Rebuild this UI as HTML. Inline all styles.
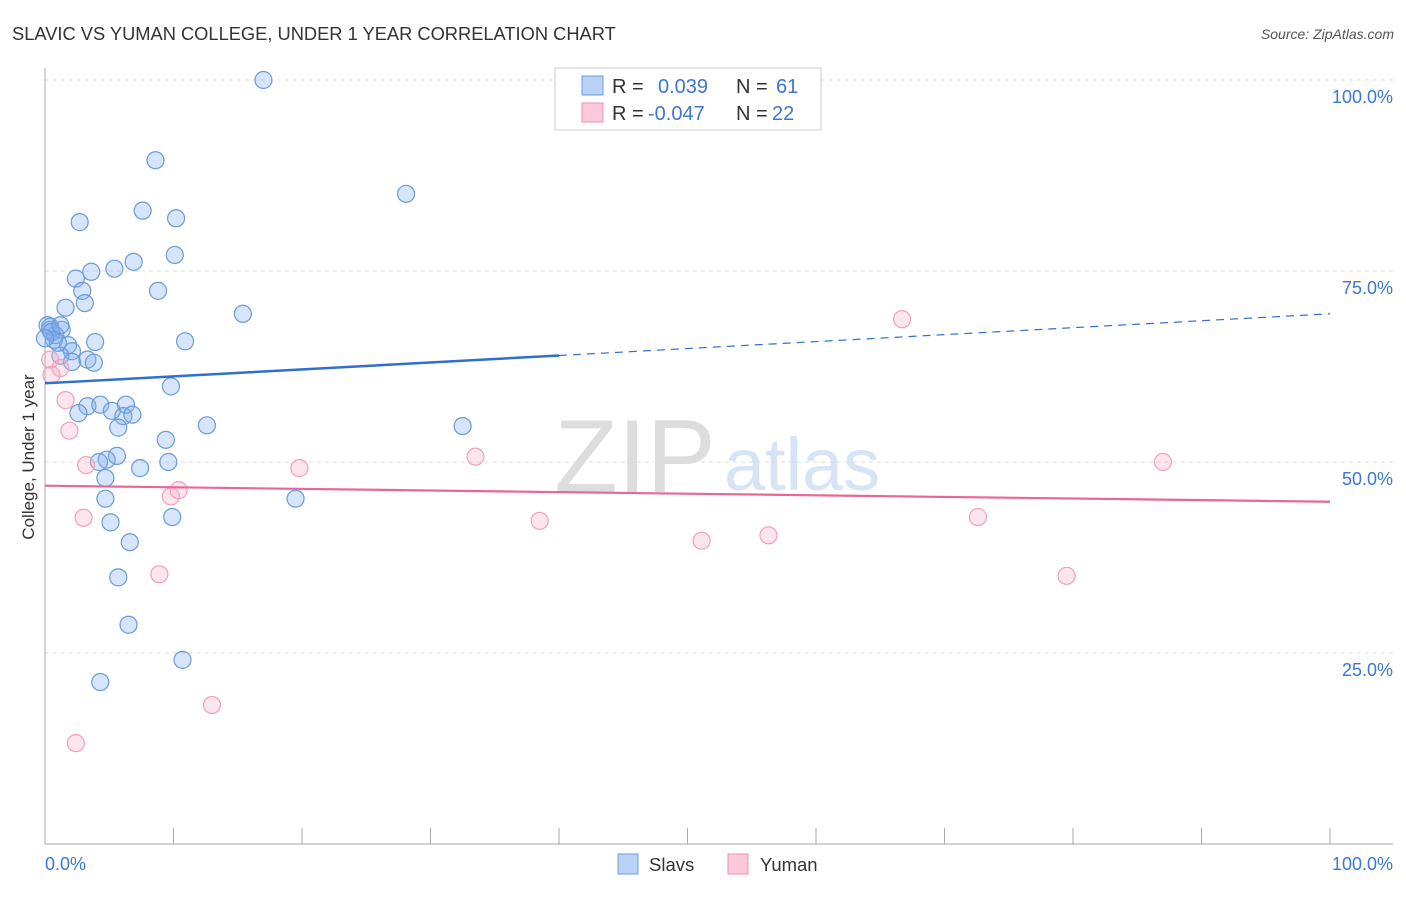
<!DOCTYPE html>
<html><head><meta charset="utf-8"><style>
body{margin:0;background:#fff;font-family:"Liberation Sans",sans-serif}
svg text{font-family:"Liberation Sans",sans-serif}
</style></head><body>
<svg id="c" width="1406" height="892">
<text x="12" y="40" font-size="18.3" fill="#333">SLAVIC VS YUMAN COLLEGE, UNDER 1 YEAR CORRELATION CHART</text>
<text x="1394" y="39" font-size="14" fill="#555" text-anchor="end" font-style="italic">Source: ZipAtlas.com</text>
<text x="635" y="492" font-size="104" fill="#ddd" font-family="Liberation Serif" text-anchor="middle">ZIP</text>
<text x="802" y="490" font-size="74" fill="#d6e4f5" text-anchor="middle">atlas</text>
<text transform="translate(34,457) rotate(-90)" font-size="17" fill="#333" text-anchor="middle">College, Under 1 year</text>
<g id="grid"></g><g id="pts"></g><g id="lines"></g>
<g>
<rect x="555" y="68" width="266" height="62" fill="#fff" stroke="#ccc"/>
<rect x="582" y="76" width="21" height="19" fill="#b8d3f5" stroke="#6b9ee0"/>
<rect x="582" y="103" width="21" height="19" fill="#fcc9d8" stroke="#f08fb0"/>
<text x="612" y="93" font-size="20" fill="#333">R =</text><text x="658" y="93" font-size="20" fill="#3a78d4">0.039</text>
<text x="736" y="93" font-size="20" fill="#333">N =</text><text x="776" y="93" font-size="20" fill="#3a78d4">61</text>
<text x="612" y="120" font-size="20" fill="#333">R =</text><text x="648" y="120" font-size="20" fill="#3a78d4">-0.047</text>
<text x="736" y="120" font-size="20" fill="#333">N =</text><text x="772" y="120" font-size="20" fill="#3a78d4">22</text>
</g>
<g>
<rect x="618" y="854" width="20" height="20" fill="#b8d3f5" stroke="#6b9ee0"/><text x="649" y="871" font-size="18.5" fill="#333">Slavs</text>
<rect x="728" y="854" width="20" height="20" fill="#fcc9d8" stroke="#f08fb0"/><text x="760" y="871" font-size="18.5" fill="#333">Yuman</text>
</g>
<text x="45" y="870" font-size="18" fill="#3a78d4">0.0%</text>
<text x="1393" y="870" font-size="18" fill="#3a78d4" text-anchor="end">100.0%</text>
</svg>
<script>
const yTicks=[100,75,50,25];
const yTickLabels=["100.0%","75.0%","50.0%","25.0%"];
const slavX=[17.0,8.6,28.1,7.6,2.7,10.2,10.1,6.9,5.4,3.6,2.4,8.8,2.9,3.1,1.6,15.4,0.4,1.3,0.7,10.9,3.9,1.8,2.1,1.2,2.1,3.3,3.8,9.8,3.3,4.3,2.6,6.3,5.2,6.1,6.8,5.7,12.6,32.5,9.4,5.6,4.8,4.2,7.4,9.6,4.7,4.7,19.5,9.9,5.1,6.6,5.7,6.5,10.7,4.3,0.4,0.8,0.2,1.0,0.5,0.0,1.2];
const slavY=[100.0,89.5,85.1,82.9,81.4,81.9,77.1,76.2,75.3,74.9,74.0,72.4,72.4,70.8,70.2,69.4,67.7,67.3,66.0,65.8,65.7,65.3,64.5,63.9,63.1,63.4,63.0,59.9,57.3,57.5,56.4,57.5,56.7,56.0,56.2,54.5,54.8,54.7,52.9,50.8,50.3,50.0,49.2,50.0,47.9,45.2,45.2,42.8,42.1,39.5,34.9,28.7,24.1,21.2,67.3,66.6,67.9,65.6,67.0,66.2,67.9];
const yumanX=[0.5,1.2,1.6,1.9,3.2,3.0,8.9,9.8,10.4,19.8,33.5,38.5,51.1,56.3,66.7,87.0,72.6,79.5,13.0,2.4,0.4];
const yumanY=[61.4,62.3,58.1,54.1,49.6,42.7,35.3,45.5,46.3,49.2,50.7,42.3,39.7,40.4,68.7,50.0,42.8,35.1,18.2,13.2,63.4];
const slavTrend=[60.3,69.4];
const yumanTrend=[46.9,44.8];
const NS="http://www.w3.org/2000/svg";
const X=v=>45+v*12.85, Y=v=>844-v*7.64;
function mk(t,a,p){const e=document.createElementNS(NS,t);for(const k in a)e.setAttribute(k,a[k]);p.appendChild(e);return e;}
const g=document.getElementById('grid');
yTicks.forEach((t,i)=>{
 const l=mk('line',{x1:45,x2:1393,y1:Y(t),y2:Y(t),stroke:'#ddd','stroke-dasharray':'4,4'},g);
 
 
 const tx=mk('text',{x:1393,y:Y(t)+23,'font-size':18,fill:'#3a78d4','text-anchor':'end'},g);
 tx.textContent=yTickLabels[i];
 
 
});
mk('line',{x1:45,x2:45,y1:68,y2:844,stroke:'#aaa'},g);
mk('line',{x1:45,x2:1393,y1:844,y2:844,stroke:'#aaa'},g);
for(let i=0;i<=10;i++){const t=mk('line',{x1:X(i*10),x2:X(i*10),y1:828,y2:844,stroke:'#aaa'},g);
 
 }
const p=document.getElementById('pts');
slavX.forEach((v,i)=>{const c=mk('circle',{cx:X(v),cy:Y(slavY[i]),r:8.5,fill:'rgba(130,175,240,0.33)',stroke:'#6a9ad8','stroke-width':1.2},p);
 
 });
yumanX.forEach((v,i)=>{const c=mk('circle',{cx:X(v),cy:Y(yumanY[i]),r:8.5,fill:'rgba(248,175,200,0.33)',stroke:'#f0a0bc','stroke-width':1.2},p);
 
 });
const L=document.getElementById('lines');
const sy=x=>slavTrend[0]+(slavTrend[1]-slavTrend[0])*x/100;
const a=mk('line',{x1:X(0),y1:Y(sy(0)),x2:X(40),y2:Y(sy(40)),stroke:'#2f6fd0','stroke-width':2.5},L);


const b=mk('line',{x1:X(40),y1:Y(sy(40)),x2:X(100),y2:Y(sy(100)),stroke:'#2f6fd0','stroke-width':1.2,'stroke-dasharray':'8,6'},L);


const c=mk('line',{x1:X(0),y1:Y(yumanTrend[0]),x2:X(100),y2:Y(yumanTrend[1]),stroke:'#e8679a','stroke-width':2.2},L);


</script>
</body></html>
